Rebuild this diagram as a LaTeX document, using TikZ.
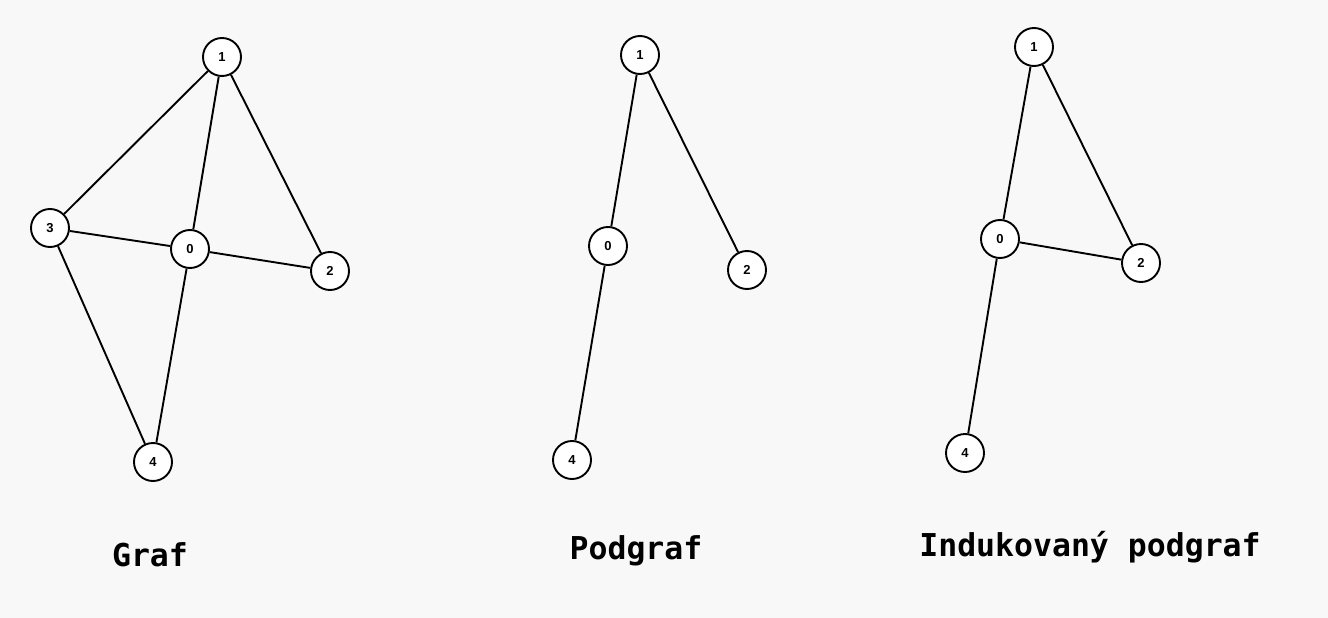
\documentclass[tikz,border=0pt]{standalone}
\usepackage{fontspec}
\setmainfont{Liberation Sans}
\setmonofont{DejaVu Sans Mono}
\usetikzlibrary{automata}

\begin{document}
\begin{tikzpicture}[x=1pt,y=-1pt,line width=1.9pt,
    every state/.style={draw,fill=white,minimum size=38pt,inner sep=0pt,line width=1.9pt,font=\fontsize{13}{13}\selectfont\bfseries},
    caption/.style={font=\fontsize{31.5}{31.5}\selectfont\ttfamily\bfseries}]
  \fill[fill={rgb,255:red,248;green,248;blue,248}] (0,0) rectangle (1328,618);
  % Graf
  \node[state] (g1) at (222,57)  {1};
  \node[state] (g3) at (50,228)  {3};
  \node[state] (g0) at (190,249) {0};
  \node[state] (g2) at (330,271) {2};
  \node[state] (g4) at (153,462) {4};
  \path (g1) edge (g3)
        (g1) edge (g0)
        (g1) edge (g2)
        (g3) edge (g0)
        (g0) edge (g2)
        (g3) edge (g4)
        (g0) edge (g4);
  % Podgraf
  \node[state] (p1) at (640,55)  {1};
  \node[state] (p0) at (608,246) {0};
  \node[state] (p2) at (747,270) {2};
  \node[state] (p4) at (572,460) {4};
  \path (p1) edge (p0)
        (p1) edge (p2)
        (p0) edge (p4);
  % Indukovany podgraf
  \node[state] (i1) at (1034,47)  {1};
  \node[state] (i0) at (1000,239) {0};
  \node[state] (i2) at (1141,263) {2};
  \node[state] (i4) at (965,453)  {4};
  \path (i1) edge (i0)
        (i1) edge (i2)
        (i0) edge (i2)
        (i0) edge (i4);
  \node[caption] (gl) at (150,555) {Graf};
  \node[caption] (pl) at (636,551) {Podgraf};
  \node[caption] (il) at (1090,547) {Indukovaný podgraf};
\end{tikzpicture}
\end{document}
